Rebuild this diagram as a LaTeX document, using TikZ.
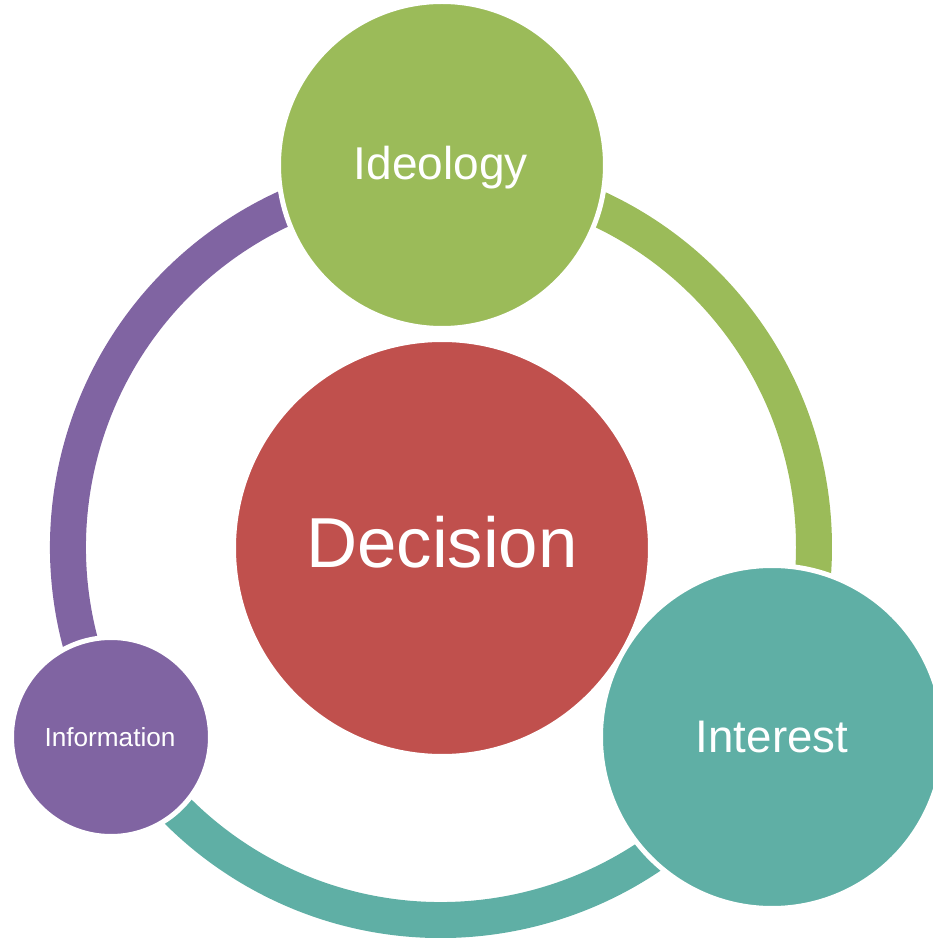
\documentclass[tikz,border=0pt]{standalone}
\usepackage{fontspec}
\setmainfont{Liberation Sans}
\definecolor{cgreen}{HTML}{9BBB59}
\definecolor{cred}{HTML}{C0504D}
\definecolor{cteal}{HTML}{5FAFA5}
\definecolor{cpurple}{HTML}{8064A2}
\begin{document}
\begin{tikzpicture}[x=0.02cm,y=0.02cm,
  ring/.style={line width=0.72cm},
  bubble/.style={circle, inner sep=0pt, outer sep=0pt, draw=white, line width=0.1cm},
  lbl/.style={text=white, anchor=base, inner sep=0pt}]
\useasboundingbox (0,0) rectangle (933,938);
\clip (0,0) rectangle (933,938);
\coordinate (c) at (441,391);
% ring segments
\draw[ring, cgreen] (c) ++(90:373) arc[start angle=90, end angle=-30, radius=373];
\draw[ring, cteal] (c) ++(-30:373) arc[start angle=-30, end angle=-150, radius=373];
\draw[ring, cpurple] (c) ++(210:373) arc[start angle=210, end angle=90, radius=373];
% circles
\node[bubble, fill=cred, minimum size=0.02cm*417] (dec) at (442,390) {};
\node[bubble, fill=cgreen, minimum size=0.02cm*327] (ide) at (442,773) {};
\node[bubble, fill=cteal, minimum size=0.02cm*343] (int) at (772,201) {};
\node[bubble, fill=cpurple, minimum size=0.02cm*199] (inf) at (111,201) {};
% labels
\node[lbl, font=\fontsize{40.3}{42}\selectfont] (decl) at (442,370) {Decision};
\node[lbl, font=\fontsize{26.2}{28}\selectfont] (idel) at (441,758) {Ideology};
\node[lbl, font=\fontsize{26}{28}\selectfont] (intl) at (772,185) {Interest};
\node[lbl, font=\fontsize{14.9}{16}\selectfont] (infl) at (110,191) {Information};
\end{tikzpicture}
\end{document}
